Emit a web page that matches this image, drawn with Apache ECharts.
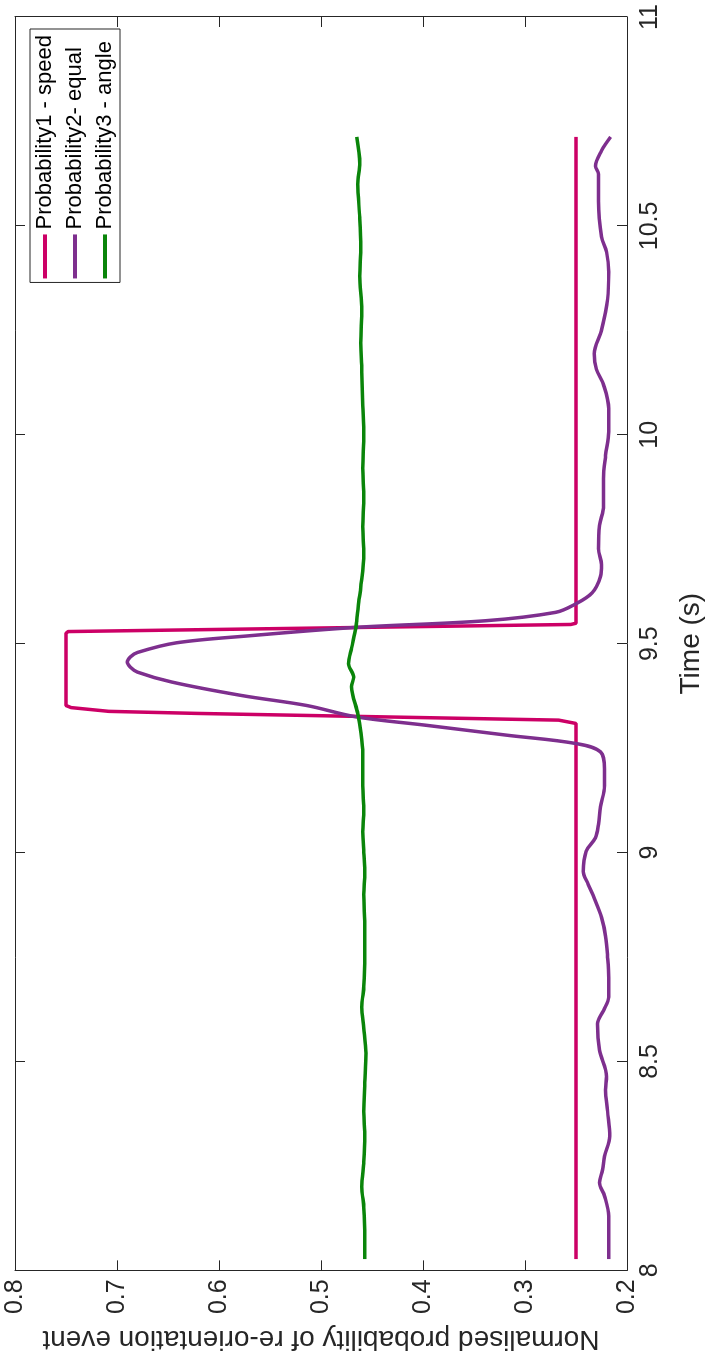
<!DOCTYPE html>
<html>
<head>
<meta charset="utf-8">
<script src="https://cdn.jsdelivr.net/npm/echarts@6/dist/echarts.min.js"></script>
<style>
  html, body { margin: 0; padding: 0; width: 710px; height: 1361px; overflow: hidden; background: #fff; }
  /* the figure is drawn landscape and turned a quarter turn anticlockwise */
  #chart { position: absolute; left: 0; top: 0; width: 1361px; height: 710px;
           transform-origin: 0 0; transform: translateY(1361px) rotate(-90deg); }
</style>
</head>
<body>
<div id="chart"></div>
<script>
// time axis ticks
const timeTicks = [8, 8.5, 9, 9.5, 10, 10.5, 11];
const probTicks = [0.2, 0.3, 0.4, 0.5, 0.6, 0.7, 0.8];

// Probability1 - speed
const speedT = [8.027, 9.309, 9.317, 9.333, 9.338, 9.347, 9.352, 9.525, 9.529, 9.546, 9.549, 10.713];
const speedP = [0.25, 0.25, 0.267, 0.62, 0.708, 0.745, 0.75, 0.75, 0.748, 0.255, 0.25, 0.25];

// Probability2- equal
const equalT = [8.027, 8.035, 8.08, 8.13, 8.178, 8.21, 8.24, 8.273, 8.321, 8.38, 8.432, 8.464,
  8.527, 8.59, 8.622, 8.654, 8.7, 8.749, 8.8, 8.845, 8.89, 8.924, 8.955, 9.003, 9.035, 9.067,
  9.11, 9.16, 9.2, 9.241, 9.261, 9.281, 9.305, 9.325, 9.352, 9.376, 9.408, 9.432, 9.444, 9.456,
  9.468, 9.479, 9.502, 9.519, 9.539, 9.555, 9.575, 9.593, 9.622, 9.661, 9.689, 9.727, 9.783,
  9.83, 9.895, 9.951, 10.007, 10.063, 10.12, 10.157, 10.194, 10.25, 10.325, 10.39, 10.437,
  10.474, 10.559, 10.624, 10.643, 10.68, 10.713];
const equalP = [0.218, 0.218, 0.218, 0.218, 0.222, 0.227, 0.224, 0.222, 0.217, 0.219, 0.221, 0.22,
  0.227, 0.229, 0.223, 0.218, 0.218, 0.219, 0.221, 0.225, 0.232, 0.238, 0.243, 0.24, 0.231, 0.228,
  0.226, 0.222, 0.222, 0.226, 0.25, 0.318, 0.398, 0.466, 0.514, 0.578, 0.646, 0.68, 0.687, 0.69,
  0.687, 0.68, 0.642, 0.57, 0.466, 0.338, 0.27, 0.252, 0.234, 0.226, 0.225, 0.228, 0.227,
  0.223, 0.223, 0.221, 0.218, 0.218, 0.223, 0.23, 0.232, 0.225, 0.219, 0.218, 0.22,
  0.225, 0.228, 0.228, 0.231, 0.225, 0.216];

// Probability3 - angle
const angleT = [8.027, 8.08, 8.15, 8.2, 8.26, 8.32, 8.38, 8.45, 8.52, 8.58, 8.63, 8.68, 8.75,
  8.82, 8.9, 8.95, 9.0, 9.05, 9.1, 9.16, 9.238, 9.29, 9.333, 9.397, 9.42, 9.452, 9.49, 9.536,
  9.556, 9.6, 9.635, 9.714, 9.78, 9.85, 9.92, 10.0, 10.07, 10.15, 10.22, 10.3, 10.38, 10.45,
  10.52, 10.6, 10.65, 10.713];
const angleP = [0.457, 0.457, 0.458, 0.46, 0.458, 0.457, 0.458, 0.457, 0.456, 0.458, 0.46, 0.458, 0.457,
  0.457, 0.458, 0.457, 0.458, 0.459, 0.458, 0.459, 0.459, 0.461, 0.464, 0.47, 0.468, 0.473, 0.47, 0.466,
  0.465, 0.463, 0.461, 0.458, 0.459, 0.458, 0.459, 0.458, 0.459, 0.46, 0.461, 0.46, 0.462, 0.461,
  0.462, 0.464, 0.462, 0.465];

const FONT = "'Liberation Sans', Arial, Helvetica, sans-serif";
const INK = '#262626';
const C_SPEED = '#CC0066';
const C_EQUAL = '#7E2F8E';
const C_ANGLE = '#0A850A';

function pairs(xs, ys) {
  let out = [];
  for (let i = 0; i < xs.length; i++) {
    out.push([xs[i], ys[i]]);
  }
  return out;
}

let myChart = echarts.init(document.getElementById('chart'));

let tickStyle = {show: true, inside: true, length: 10, lineStyle: {color: INK, width: 1}};
let lineAxis = {show: true, onZero: false, lineStyle: {color: INK, width: 1}};

let option = {
  animation: false,
  backgroundColor: '#fff',
  grid: {left: 83, right: 17, top: 15, bottom: 78},
  legend: {
    orient: 'vertical',
    right: 29,
    top: 30,
    itemWidth: 44,
    itemHeight: 4,
    itemGap: 4,
    padding: [2, 6, 2, 4],
    backgroundColor: '#fff',
    borderColor: INK,
    borderWidth: 1,
    borderRadius: 0,
    data: [
      {name: 'Probability1 - speed', icon: 'rect'},
      {name: 'Probability2- equal', icon: 'rect'},
      {name: 'Probability3 - angle', icon: 'rect'}
    ],
    textStyle: {fontFamily: FONT, fontSize: 22, color: '#000', lineHeight: 26}
  },
  xAxis: [
    {
      type: 'value',
      min: timeTicks[0],
      max: timeTicks[timeTicks.length - 1],
      interval: timeTicks[1] - timeTicks[0],
      position: 'bottom',
      name: 'Time (s)',
      nameLocation: 'middle',
      nameGap: 50,
      nameTextStyle: {fontFamily: FONT, fontSize: 28, color: INK},
      axisLine: lineAxis,
      axisTick: tickStyle,
      axisLabel: {fontFamily: FONT, fontSize: 25, color: INK, margin: 11},
      splitLine: {show: false}
    },
    {
      type: 'value',
      min: timeTicks[0],
      max: timeTicks[timeTicks.length - 1],
      interval: timeTicks[1] - timeTicks[0],
      position: 'top',
      axisLine: lineAxis,
      axisTick: tickStyle,
      axisLabel: {show: false},
      splitLine: {show: false}
    }
  ],
  yAxis: [
    {
      type: 'value',
      min: probTicks[0],
      max: probTicks[probTicks.length - 1],
      interval: 0.1,
      position: 'left',
      name: 'Normalised probability of re-orientation event',
      nameLocation: 'middle',
      nameRotate: 90,
      nameGap: 50,
      nameTextStyle: {fontFamily: FONT, fontSize: 28, color: INK},
      axisLine: lineAxis,
      axisTick: tickStyle,
      axisLabel: {fontFamily: FONT, fontSize: 25, color: INK, margin: 9,
        formatter: v => v.toFixed(1)},
      splitLine: {show: false}
    },
    {
      type: 'value',
      min: probTicks[0],
      max: probTicks[probTicks.length - 1],
      interval: 0.1,
      position: 'right',
      axisLine: lineAxis,
      axisTick: tickStyle,
      axisLabel: {show: false},
      splitLine: {show: false}
    }
  ],
  series: [
    {
      name: 'Probability1 - speed',
      type: 'line',
      symbol: 'none',
      data: pairs(speedT, speedP),
      lineStyle: {color: C_SPEED, width: 3.5},
      itemStyle: {color: C_SPEED}
    },
    {
      name: 'Probability2- equal',
      type: 'line',
      symbol: 'none',
      smooth: 0.35,
      data: pairs(equalT, equalP),
      lineStyle: {color: C_EQUAL, width: 3.5},
      itemStyle: {color: C_EQUAL}
    },
    {
      name: 'Probability3 - angle',
      type: 'line',
      symbol: 'none',
      smooth: 0.3,
      data: pairs(angleT, angleP),
      lineStyle: {color: C_ANGLE, width: 3.5},
      itemStyle: {color: C_ANGLE}
    }
  ]
};

myChart.setOption(option);
</script>
</body>
</html>
